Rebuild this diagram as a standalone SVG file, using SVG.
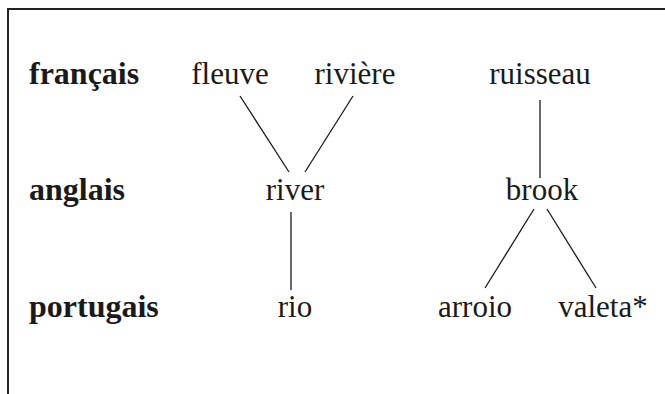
<svg xmlns="http://www.w3.org/2000/svg" width="665" height="394" viewBox="0 0 665 394">
  <style>
    .lbl { font-family: "Liberation Serif", "DejaVu Serif", serif; font-size: 32px; font-weight: bold; fill: #1a1a1a; }
    .word { font-family: "Liberation Serif", "DejaVu Serif", serif; font-size: 31px; fill: #1a1a1a; text-anchor: middle; }
    .edge { stroke: #1a1a1a; stroke-width: 1.3; fill: none; }
    .frame { stroke: #222; stroke-width: 2; fill: none; }
  </style>
  <rect width="665" height="394" fill="#fff"/>
  <!-- open frame: top and left rules -->
  <path class="frame" d="M8,394 V9 H665"/>

  <!-- row labels -->
  <g id="row-fr"><text class="lbl" x="29" y="84">français</text></g>
  <g id="row-en"><text class="lbl" x="29" y="200">anglais</text></g>
  <g id="row-pt"><text class="lbl" x="29" y="317">portugais</text></g>

  <!-- words -->
  <g id="fleuve"><text class="word" x="230" y="84">fleuve</text></g>
  <g id="riviere"><text class="word" x="355" y="84">rivière</text></g>
  <g id="ruisseau"><text class="word" x="540" y="84">ruisseau</text></g>
  <g id="river"><text class="word" x="295" y="200">river</text></g>
  <g id="brook"><text class="word" x="542" y="200">brook</text></g>
  <g id="rio"><text class="word" x="295" y="317">rio</text></g>
  <g id="arroio"><text class="word" x="475" y="317">arroio</text></g>
  <g id="valeta"><text class="word" x="603" y="317">valeta*</text></g>

  <!-- connectors -->
  <g id="edges">
    <line class="edge" x1="240" y1="96" x2="289" y2="172"/>
    <line class="edge" x1="353" y1="96" x2="305" y2="172"/>
    <line class="edge" x1="291" y1="212" x2="291" y2="290"/>
    <line class="edge" x1="540" y1="100" x2="540" y2="178"/>
    <line class="edge" x1="534" y1="209" x2="485" y2="288"/>
    <line class="edge" x1="547" y1="209" x2="596" y2="288"/>
  </g>
</svg>
